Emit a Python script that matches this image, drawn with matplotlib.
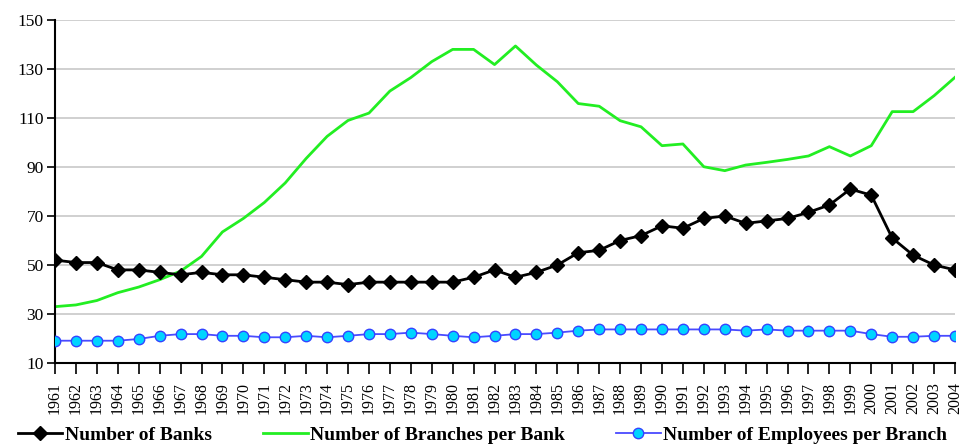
import matplotlib
matplotlib.use("Agg")
import matplotlib.pyplot as plt
from matplotlib.lines import Line2D

years = list(range(1961, 2005))

banks = [52, 51, 51, 48, 48, 47, 46, 47, 46, 46, 45, 44, 43, 43, 42, 43, 43, 43, 43, 43,
         45, 48, 45, 47, 50, 55, 56, 60, 62, 66, 65, 69, 70, 67, 68, 69, 71.5, 74.5, 81, 78.5,
         61, 54, 50, 48]

branches_per_bank = [33, 33.7, 35.5, 38.7, 41, 44, 47.5, 53.5, 63.5, 69, 75.5, 83.5, 93.5, 102.5,
                     109, 112, 121, 126.5, 133, 138, 138, 131.8, 139.4, 131.6, 124.8, 115.9,
                     114.8, 108.9, 106.4, 98.7, 99.4, 90.1, 88.5, 90.8, 91.9, 93.1, 94.5, 98.3,
                     94.5, 98.7, 112.6, 112.6, 119.1, 126.6]

employees_per_branch = [19.1, 19.1, 19.1, 19.1, 19.8, 21.1, 21.8, 21.8, 21.1, 21.1, 20.5, 20.5,
                        21.1, 20.5, 21.1, 21.8, 21.8, 22.4, 21.8, 21.1, 20.5, 21.1, 21.8, 21.8,
                        22.4, 23.2, 23.7, 23.7, 23.7, 23.7, 23.7, 23.7, 23.7, 23.2, 23.7, 23.2,
                        23.2, 23.2, 23.2, 21.8, 20.7, 20.7, 21.1, 21.1]

y_ticks = [10, 30, 50, 70, 90, 110, 130, 150]
labels = ["Number of Banks", "Number of Branches per Bank", "Number of Employees per Branch"]

plt.rcParams['font.family'] = ['Liberation Serif', 'DejaVu Serif']

fig = plt.figure(figsize=(9.62, 4.47), dpi=100)
ax = fig.add_axes([55/962, 1 - 363/447, 900/962, 343/447])

ax.plot(years, branches_per_bank, color='#22ee22', lw=2.0, zorder=2)
ax.plot(years, banks, color='black', lw=2.0, marker='D', markersize=7.5,
        markerfacecolor='black', markeredgecolor='black', zorder=3)
ax.plot(years, employees_per_branch, color='#4a4aff', lw=1.3, marker='o', markersize=7.5,
        markerfacecolor='#00d4ff', markeredgecolor='#3344ff', markeredgewidth=1.0, zorder=3)

ax.set_xlim(1961, 2004)
ax.set_ylim(10, 150)
ax.set_yticks(y_ticks)
ax.set_xticks(years)
ax.set_xticklabels([str(y) for y in years], rotation=90, fontsize=11.5)
ax.tick_params(axis='y', labelsize=12.5, direction='out', length=6, width=1.2, pad=2)
ax.tick_params(axis='x', direction='out', length=8, width=1.2, pad=6)
ax.grid(axis='y', color='#c8c8c8', lw=1.2)
ax.set_axisbelow(True)
for s in ['top', 'right']:
    ax.spines[s].set_visible(False)
ax.spines['left'].set_linewidth(1.5)
ax.spines['bottom'].set_linewidth(1.5)

handles = [
    Line2D([], [], color='black', lw=2.0, marker='D', markersize=7.5),
    Line2D([], [], color='#22ee22', lw=2.0),
    Line2D([], [], color='#4a4aff', lw=1.3, marker='o', markersize=7.5,
           markerfacecolor='#00d4ff', markeredgecolor='#3344ff'),
]
fig.legend(handles, labels, loc='center', bbox_to_anchor=(0.5016, 12/447), ncol=3,
           frameon=False, prop={'weight': 'bold', 'size': 14}, handlelength=2.3,
           handletextpad=0.15, columnspacing=2.6, borderpad=0, borderaxespad=0)

fig.savefig("out.png", dpi=100)
